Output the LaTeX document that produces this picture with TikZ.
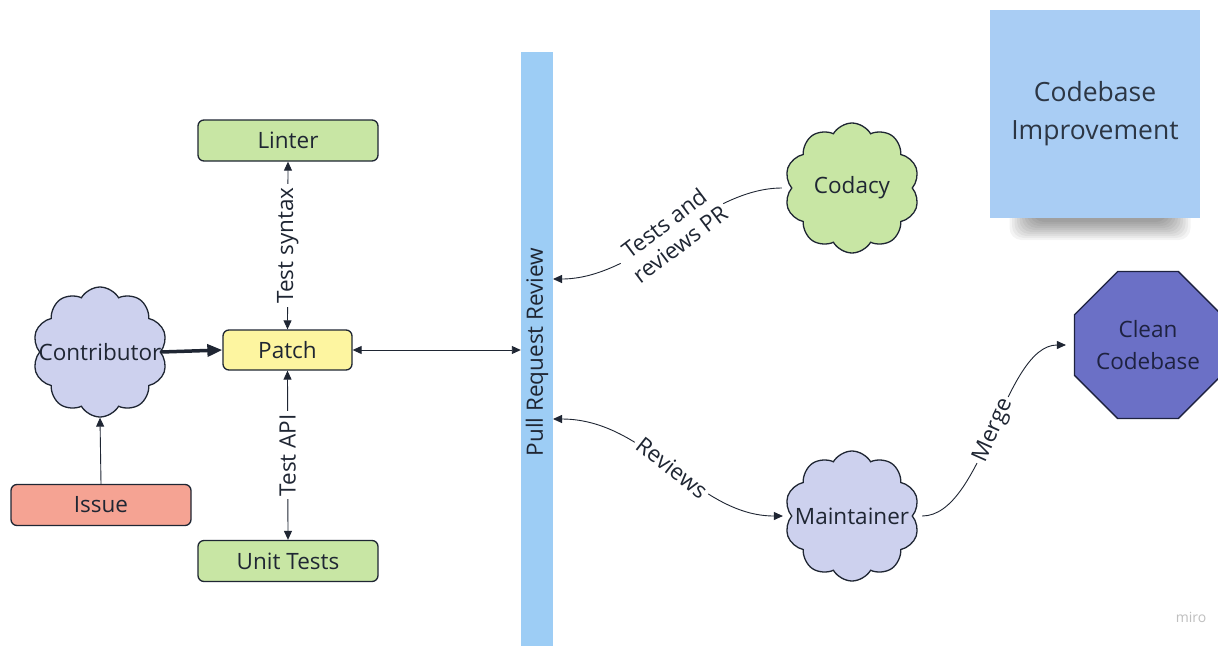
\documentclass[tikz,border=0pt]{standalone}
\usepackage{fontspec}
\setmainfont{Open Sans}
\usetikzlibrary{shapes.symbols,shapes.geometric,arrows.meta}
\definecolor{ink}{HTML}{1F2633}
\definecolor{greenfill}{HTML}{C8E6A4}
\definecolor{yellowfill}{HTML}{FDF5A0}
\definecolor{redfill}{HTML}{F5A393}
\definecolor{lavender}{HTML}{CDD1EE}
\definecolor{barblue}{HTML}{9DCDF5}
\definecolor{noteblue}{HTML}{A9CDF4}
\definecolor{octfill}{HTML}{6B70C6}
\definecolor{octline}{HTML}{1E2240}
\definecolor{notetext}{HTML}{2C3644}
\begin{document}
\begin{tikzpicture}[x=1pt,y=-1pt,
  >={Triangle[length=9pt,width=8pt]},
  lbl/.style={font=\fontsize{22.5}{26}\selectfont, text=ink},
  box/.style={lbl, draw=ink, line width=1.3pt, rounded corners=6pt,
    minimum width=180pt, minimum height=41pt, inner sep=0pt},
  cloudnode/.style={cloud, cloud puffs=10, cloud puff arc=120, aspect=1,
    draw=ink, line width=1.3pt, minimum width=135pt, minimum height=130pt, inner sep=0pt},
  cloudtext/.style={lbl},
  conn/.style={draw=ink, line width=0.9pt},
  edgelbl/.style={lbl, fill=white, inner sep=3pt},
  shadowlayer/.style={fill=black, opacity=0.045, rounded corners=12pt}
]
\useasboundingbox (0,0) rectangle (1218,646);
\fill[white] (0,0) rectangle (1218,646);

% sticky note shadow
\foreach \i in {0,...,9}
  \fill[shadowlayer] (1032-2.5*\i,205) rectangle (1168+2.5*\i,222+2*\i);
\node (note) [fill=noteblue, minimum width=210pt, minimum height=208pt, inner sep=0pt,
  align=center, font=\fontsize{26.5}{38}\selectfont, text=notetext] at (1095,114)
  {Codebase\\Improvement};

% pull request bar
\node (bar) [fill=barblue, minimum width=32pt, minimum height=594pt, inner sep=0pt] at (537,349) {};
\node (barlabel) [lbl, rotate=90] at (537,352) {Pull Request Review};
\coordinate (barT) at (553,279);
\coordinate (barB) at (553,419);

% left side
\node (linter) [box, fill=greenfill] at (288,140.5) {Linter};
\node (patch) [box, fill=yellowfill, minimum width=129pt, minimum height=40pt] at (287.5,350) {Patch};
\node (unit) [box, fill=greenfill] at (288,561) {Unit Tests};
\node (issue) [box, fill=redfill] at (101,505) {Issue};
\node (contrib) [cloudnode, fill=lavender, label={[cloudtext]center:Contributor}] at (100,352) {};

% right side
\node (codacy) [cloudnode, fill=greenfill, label={[cloudtext]center:Codacy}] at (852,188) {};
\node (maint) [cloudnode, fill=lavender, label={[cloudtext]center:Maintainer}] at (852,516) {};
\node (clean) [regular polygon, regular polygon sides=8, minimum size=156pt, inner sep=0pt,
  fill=octfill, draw=octline, line width=1.3pt, align=center,
  font=\fontsize{22.5}{32}\selectfont, text=octline] at (1148,345) {Clean\\Codebase};

% connectors
\draw[line width=3.5pt, draw=ink, -{Triangle[length=15pt,width=12pt]}] (contrib.east) -- (patch.west);
\draw[conn, ->] (issue.north) -- (contrib.south);
\draw[conn, <->] (linter.south) -- (patch.north)
  node[edgelbl, midway, rotate=90] {Test syntax};
\draw[conn, <->] (patch.south) -- (unit.north)
  node[edgelbl, midway, rotate=90] {Test API};
\draw[conn, <->] (patch.east) -- (patch.east -| bar.west);
\draw[conn, ->, shorten <=9pt] (codacy.west) .. controls +(-85,0) and +(85,0) .. (barT)
  node[edgelbl, midway, rotate=37, align=center] {Tests and\\reviews PR};
\draw[conn, <->, shorten >=8pt] (barB) .. controls +(95,0) and +(-95,0) .. (maint.west)
  node[edgelbl, midway, rotate=-38] {Reviews};
\draw[conn, ->, shorten <=9pt, shorten >=8pt] (maint.east) .. controls +(70,0) and +(-70,0) .. (clean.west)
  node[edgelbl, midway, rotate=66] {Merge};

% watermark
\node (miro) [font=\fontsize{14}{16}\selectfont, text=black!25] at (1191,617) {miro};
\end{tikzpicture}
\end{document}
